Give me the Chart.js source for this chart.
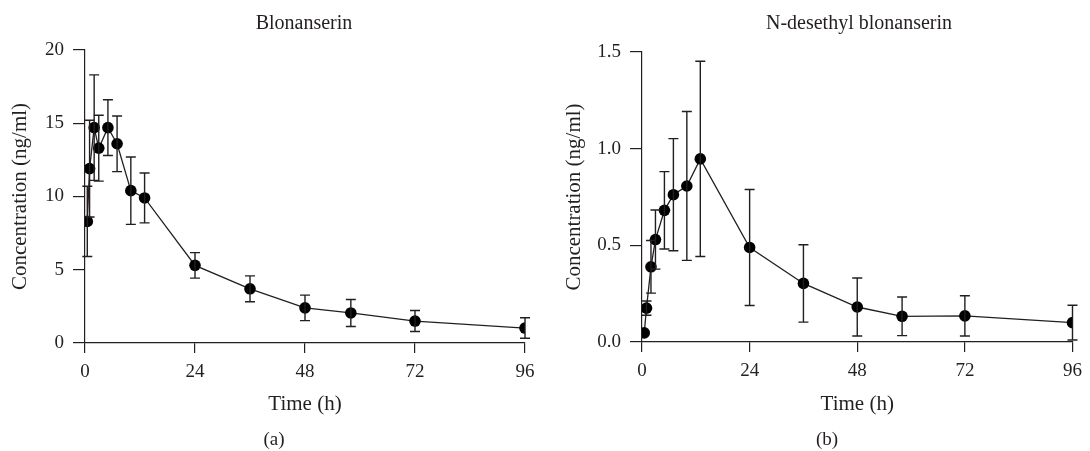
<!DOCTYPE html>
<html>
<head>
<meta charset="utf-8">
<script src="https://cdn.jsdelivr.net/npm/chart.js@4.4.1/dist/chart.umd.min.js"></script>
<style>
    body { margin: 0; background: #fff; }
    #wrap { position: relative; width: 1090px; height: 451px; font-family: "Liberation Serif", serif; color: #231f20; }
    .box { position: absolute; top: 0; width: 545px; height: 451px; }
    .lbl { position: absolute; white-space: nowrap; transform: translate(-50%, -50%); line-height: 1; }
</style>
</head>
<body>
<div id="wrap">
    <div class="box" style="left:0"><canvas id="chartA"></canvas></div>
    <div class="box" style="left:545px"><canvas id="chartB"></canvas></div>
    <div class="lbl" style="left:304px; top:22px; font-size:20px">Blonanserin</div>
    <div class="lbl" style="left:859px; top:22px; font-size:20px">N-desethyl blonanserin</div>
    <div class="lbl" style="left:274px; top:438px; font-size:19px">(a)</div>
    <div class="lbl" style="left:827px; top:438px; font-size:19px">(b)</div>
</div>
<script>
// sampling times (h)
const times = [0.5, 1, 2, 3, 5, 7, 10, 13, 24, 36, 48, 58, 72, 96];

// blonanserin mean and SD (ng/ml)
const blonMean = [8.3, 11.9, 14.7, 13.3, 14.7, 13.6, 10.4, 9.9, 5.3, 3.7, 2.4, 2.05, 1.5, 1.02];
const blonSD = [2.4, 3.3, 3.6, 2.25, 1.9, 1.9, 2.3, 1.7, 0.87, 0.88, 0.87, 0.92, 0.72, 0.7];

// N-desethyl blonanserin mean and SD (ng/ml)
const desMean = [0.047, 0.175, 0.389, 0.53, 0.681, 0.762, 0.807, 0.947, 0.489, 0.303, 0.181, 0.133, 0.135, 0.1];
const desSD = [0, 0.037, 0.136, 0.153, 0.2, 0.29, 0.385, 0.505, 0.3, 0.2, 0.15, 0.1, 0.104, 0.09];

const xTicks = [0, 24, 48, 72, 96];

const ink = "#231f20";
const fontFamily = "'Liberation Serif', serif";

// draws the SD whiskers using the chart's own scales
const errorBars = {
    id: "errorBars",
    afterDatasetsDraw(chart, args, opts) {
        const ctx = chart.ctx;
        const xs = chart.scales.x;
        const ys = chart.scales.y;
        const means = opts.means;
        const sds = opts.sds;
        ctx.save();
        ctx.strokeStyle = ink;
        ctx.lineWidth = 1.4;
        for (let i = 0; i < times.length; i++) {
            if (!sds[i]) continue;
            const x = xs.getPixelForValue(times[i]);
            const yTop = ys.getPixelForValue(means[i] + sds[i]);
            const yBot = ys.getPixelForValue(Math.max(means[i] - sds[i], 0));
            ctx.beginPath();
            ctx.moveTo(x, yTop);
            ctx.lineTo(x, yBot);
            ctx.moveTo(x - 5, yTop);
            ctx.lineTo(x + 5, yTop);
            ctx.moveTo(x - 5, yBot);
            ctx.lineTo(x + 5, yBot);
            ctx.stroke();
        }
        ctx.restore();
    }
};

function makeChart(id, means, sds, yMax, yStep, yDecimals, pad, yWidth, xHeight, yTitlePad) {
    const ctx = document.getElementById(id).getContext("2d");
    return new Chart(ctx, {
        type: "line",
        data: {
            datasets: [{
                data: times.map((t, i) => ({ x: t, y: means[i] })),
                borderColor: ink,
                borderWidth: 1.3,
                pointRadius: 5.8,
                pointBackgroundColor: "#000",
                pointBorderColor: "#000",
                pointBorderWidth: 0,
                tension: 0,
                fill: false
            }]
        },
        options: {
            responsive: false,
            animation: false,
            events: [],
            layout: { padding: pad },
            plugins: {
                legend: { display: false },
                tooltip: { enabled: false },
                errorBars: { means: means, sds: sds }
            },
            scales: {
                x: {
                    type: "linear",
                    min: 0,
                    max: 96,
                    afterBuildTicks: scale => { scale.ticks = xTicks.map(v => ({ value: v })); },
                    afterFit: scale => { scale.height = xHeight; },
                    grid: { drawOnChartArea: false, drawTicks: true, tickLength: 10, color: ink, lineWidth: 1.2 },
                    border: { display: true, color: ink, width: 1.2 },
                    ticks: { color: ink, font: { family: fontFamily, size: 19 }, padding: 8, maxRotation: 0 },
                    title: { display: true, text: "Time (h)", color: ink, font: { family: fontFamily, size: 21 }, padding: { top: 0, bottom: 34 } }
                },
                y: {
                    min: 0,
                    max: yMax,
                    ticks: {
                        stepSize: yStep,
                        color: ink,
                        font: { family: fontFamily, size: 19 },
                        padding: 9,
                        callback: v => v.toFixed(yDecimals)
                    },
                    afterFit: scale => { scale.width = yWidth; },
                    grid: { drawOnChartArea: false, drawTicks: true, tickLength: 12, color: ink, lineWidth: 1.2 },
                    border: { display: true, color: ink, width: 1.2 },
                    title: { display: true, text: "Concentration (ng/ml)", color: ink, font: { family: fontFamily, size: 21 }, padding: { top: yTitlePad, bottom: 0 } }
                }
            }
        },
        plugins: [errorBars]
    });
}

document.getElementById("chartA").width = 545;
document.getElementById("chartA").height = 451;
document.getElementById("chartB").width = 545;
document.getElementById("chartB").height = 451;

makeChart("chartA", blonMean, blonSD, 20, 5, 0, { top: 50, right: 20, left: 0, bottom: 0 }, 85, 108, 8);
makeChart("chartB", desMean, desSD, 1.5, 0.5, 1, { top: 52, right: 13, left: 0, bottom: 0 }, 97, 109, 17);
</script>
</body>
</html>
